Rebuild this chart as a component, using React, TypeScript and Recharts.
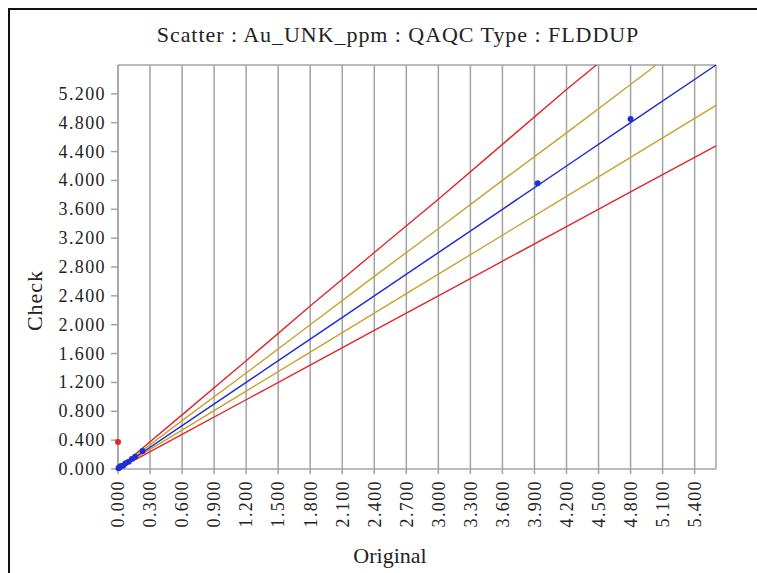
import {
  ComposedChart,
  Line,
  Scatter,
  XAxis,
  YAxis,
  CartesianGrid,
  ReferenceLine,
} from "recharts";

// envelope lines (Original -> Check)
const upperRedX = [0.15, 0.6, 1.2, 1.8, 2.4, 3.0, 3.6, 4.2, 4.48];
const upperRedY = [0.19, 0.75, 1.5, 2.26, 3.0, 3.74, 4.5, 5.26, 5.6];
const upperGoldX = [0.15, 0.6, 1.2, 1.8, 2.4, 3.0, 3.6, 4.2, 4.8, 5.04];
const upperGoldY = [0.17, 0.67, 1.33, 2.0, 2.67, 3.33, 4.0, 4.66, 5.33, 5.6];
const blueX = [0, 0.6, 1.2, 1.8, 2.4, 3.0, 3.6, 4.2, 4.8, 5.6];
const blueY = [0, 0.6, 1.2, 1.8, 2.4, 3.0, 3.6, 4.2, 4.8, 5.6];
const lowerGoldX = [0.15, 0.6, 1.2, 1.8, 2.4, 3.0, 3.6, 4.2, 4.8, 5.6];
const lowerGoldY = [0.14, 0.54, 1.08, 1.62, 2.16, 2.7, 3.24, 3.78, 4.32, 5.04];
const lowerRedX = [0.15, 0.6, 1.2, 1.8, 2.4, 3.0, 3.6, 4.2, 4.8, 5.6];
const lowerRedY = [0.12, 0.48, 0.96, 1.44, 1.92, 2.4, 2.88, 3.36, 3.84, 4.48];

// duplicate pairs
const pairX = [0.005, 0.01, 0.02, 0.03, 0.05, 0.07, 0.1, 0.13, 0.16, 0.23, 3.93, 4.8];
const pairY = [0.01, 0.02, 0.03, 0.04, 0.05, 0.08, 0.1, 0.14, 0.17, 0.25, 3.96, 4.85];
const outlierX = [0.0];
const outlierY = [0.375];

const xTicks = [0, 0.3, 0.6, 0.9, 1.2, 1.5, 1.8, 2.1, 2.4, 2.7, 3.0, 3.3, 3.6, 3.9, 4.2, 4.5, 4.8, 5.1, 5.4];
const yTicks = [0, 0.4, 0.8, 1.2, 1.6, 2.0, 2.4, 2.8, 3.2, 3.6, 4.0, 4.4, 4.8, 5.2];

const zip = (xs: number[], ys: number[]) => xs.map((x, i) => ({ x, y: ys[i] }));

const FONT = '"Liberation Serif", "Times New Roman", serif';
const GRID = "#a3a3a3";
const TXT = "#222";

const XTick = (props: any) => {
  const { x, y, payload } = props;
  return (
    <text
      transform={`translate(${x},${y + 4}) rotate(-90)`}
      textAnchor="end"
      dy="0.35em"
      fill={TXT}
      fontSize={18}
      letterSpacing={1.4}
      fontFamily={FONT}
    >
      {payload.value.toFixed(3)}
    </text>
  );
};

const YTick = (props: any) => {
  const { x, y, payload } = props;
  return (
    <text
      x={x}
      y={y}
      textAnchor="end"
      dy="0.33em"
      fill={TXT}
      fontSize={18}
      letterSpacing={1.4}
      fontFamily={FONT}
    >
      {payload.value.toFixed(3)}
    </text>
  );
};

const Dot = (color: string) => (props: any) =>
  <circle cx={props.cx} cy={props.cy} r={3} fill={color} />;

export default function App() {
  return (
    <div
      style={{
        position: "fixed",
        left: 8,
        top: 8,
        boxSizing: "border-box",
        width: 749,
        height: 565,
        borderLeft: "2px solid #111",
        borderTop: "2px solid #111",
        fontFamily: FONT,
        background: "#fff",
        overflow: "hidden",
      }}
    >
      <div
        style={{
          position: "absolute",
          left: 0,
          top: 12,
          width: 776,
          textAlign: "center",
          fontSize: 22,
          lineHeight: "25px",
          letterSpacing: 0.95,
          color: TXT,
          whiteSpace: "nowrap",
        }}
      >
        Scatter : Au_UNK_ppm : QAQC Type : FLDDUP
      </div>
      <div
        style={{
          position: "absolute",
          left: 24 - 50,
          top: 291 - 13,
          width: 100,
          textAlign: "center",
          fontSize: 22,
          lineHeight: "25px",
          letterSpacing: 1,
          color: TXT,
          transform: "rotate(-90deg)",
        }}
      >
        Check
      </div>
      <div
        style={{
          position: "absolute",
          left: 0,
          top: 533,
          width: 760,
          textAlign: "center",
          fontSize: 22,
          lineHeight: "25px",
          color: TXT,
        }}
      >
        Original
      </div>
      <ComposedChart
        width={747}
        height={530}
        margin={{ top: 55, right: 41, left: 0, bottom: 0 }}
        style={{ position: "absolute", left: 0, top: 0 }}
      >
        <CartesianGrid horizontal={false} stroke={GRID} strokeWidth={1.5} verticalValues={xTicks} />
        <XAxis
          type="number"
          dataKey="x"
          domain={[0, 5.6]}
          ticks={xTicks}
          interval={0}
          height={71}
          stroke={GRID}
          strokeWidth={1.5}
          tickSize={5}
          tick={<XTick />}
        />
        <YAxis
          type="number"
          dataKey="y"
          domain={[0, 5.6]}
          ticks={yTicks}
          interval={0}
          width={108}
          stroke={GRID}
          strokeWidth={1.5}
          tickSize={7}
          tickMargin={5}
          tick={<YTick />}
        />
        <ReferenceLine x={5.6} stroke={GRID} strokeWidth={1.5} />
        <ReferenceLine y={5.6} stroke={GRID} strokeWidth={1.5} />
        <Line data={zip(upperRedX, upperRedY)} dataKey="y" stroke="#e0262a" strokeWidth={1.4} dot={false} isAnimationActive={false} />
        <Line data={zip(upperGoldX, upperGoldY)} dataKey="y" stroke="#c9a02e" strokeWidth={1.4} dot={false} isAnimationActive={false} />
        <Line data={zip(lowerGoldX, lowerGoldY)} dataKey="y" stroke="#c9a02e" strokeWidth={1.4} dot={false} isAnimationActive={false} />
        <Line data={zip(lowerRedX, lowerRedY)} dataKey="y" stroke="#e0262a" strokeWidth={1.4} dot={false} isAnimationActive={false} />
        <Line data={zip(blueX, blueY)} dataKey="y" stroke="#1f2ed6" strokeWidth={1.5} dot={false} isAnimationActive={false} />
        <Scatter data={zip(pairX, pairY)} dataKey="y" fill="#1f2ed6" shape={Dot("#1f2ed6")} isAnimationActive={false} legendType="none" />
        <Scatter data={zip(outlierX, outlierY)} dataKey="y" fill="#e0262a" shape={Dot("#e0262a")} isAnimationActive={false} legendType="none" />
      </ComposedChart>
    </div>
  );
}
